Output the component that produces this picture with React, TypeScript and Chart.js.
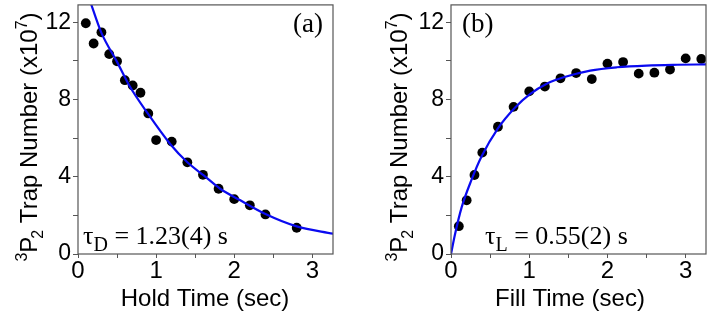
import React, { useEffect, useRef } from 'react';
import { Chart, registerables } from 'chart.js';

Chart.register(...registerables);

// ---- data ----
const holdTime = [0.1, 0.2, 0.3, 0.4, 0.5, 0.6, 0.7, 0.8, 0.9, 1.0, 1.2, 1.4, 1.6, 1.8, 2.0, 2.2, 2.4, 2.8];
const holdCount = [11.95, 10.9, 11.48, 10.35, 9.98, 9.0, 8.73, 8.35, 7.28, 5.9, 5.82, 4.75, 4.1, 3.38, 2.84, 2.52, 2.05, 1.36];
const holdFitTime = [0.15, 0.3, 0.5, 0.66, 0.9, 1.18, 1.4, 1.61, 1.82, 2.06, 2.4, 2.8, 3.27];
const holdFitCount = [13.15, 11.45, 9.95, 8.7, 7.24, 5.7, 4.75, 4.07, 3.38, 2.82, 2.07, 1.43, 1.05];

const fillTime = [0.1, 0.2, 0.3, 0.4, 0.6, 0.8, 1.0, 1.2, 1.4, 1.6, 1.8, 2.0, 2.2, 2.4, 2.6, 2.8, 3.0, 3.2];
const fillCount = [1.44, 2.78, 4.09, 5.25, 6.59, 7.62, 8.42, 8.67, 9.1, 9.37, 9.06, 9.86, 9.94, 9.34, 9.39, 9.55, 10.13, 10.1];
const fillFitTime = [0, 0.05, 0.135, 0.263, 0.39, 0.6, 0.82, 1.01, 1.23, 1.44, 1.78, 2.12, 2.5, 2.89, 3.27];
const fillFitCount = [0, 1.0, 2.4, 3.85, 5.05, 6.51, 7.59, 8.28, 8.83, 9.15, 9.5, 9.67, 9.76, 9.8, 9.82];

const xTickValues = [0, 0.5, 1, 1.5, 2, 2.5, 3];
const xTickLabels = ['0', '', '1', '', '2', '', '3'];
const yTickValues = [0, 2, 4, 6, 8, 10, 12];
const yTickLabels = ['0', '', '4', '', '8', '', '12'];

const SANS = '"Liberation Sans", Arial, Helvetica, sans-serif';
const SERIF = '"Liberation Serif", "Times New Roman", serif';
const FRAME = '#555555';
const W = 358;
const H = 313;

type Panel = {
  left: number;
  plotLeft: number;
  plotRight: number;
  xMax: number;
  times: number[];
  counts: number[];
  fitTimes: number[];
  fitCounts: number[];
  xTitle: string;
  xTitleCenter: number;
  yTitleX: number;
  tag: string;
  tagX: number;
  tauSub: string;
  tauRest: string;
  tauX: number;
};

const panels: Panel[] = [
  {
    left: 0, plotLeft: 78, plotRight: 333, xMax: 3.265,
    times: holdTime, counts: holdCount, fitTimes: holdFitTime, fitCounts: holdFitCount,
    xTitle: 'Hold Time (sec)', xTitleCenter: 205, yTitleX: 37,
    tag: '(a)', tagX: 293, tauSub: 'D', tauRest: ' = 1.23(4) s', tauX: 83,
  },
  {
    left: 358, plotLeft: 93, plotRight: 348, xMax: 3.26,
    times: fillTime, counts: fillCount, fitTimes: fillFitTime, fitCounts: fillFitCount,
    xTitle: 'Fill Time (sec)', xTitleCenter: 212, yTitleX: 49,
    tag: '(b)', tagX: 104, tauSub: 'L', tauRest: ' = 0.55(2) s', tauX: 127,
  },
];

function drawYTitle(ctx: CanvasRenderingContext2D, x: number, cy: number) {
  const pieces = [
    { t: '3', size: 16, dy: -10, dx: 0 },
    { t: 'P', size: 24, dy: 0, dx: 0 },
    { t: '2', size: 16, dy: 6, dx: -2 },
    { t: ' Trap Number (x10', size: 24, dy: 0, dx: 0 },
    { t: '7', size: 16, dy: -10, dx: 0 },
    { t: ')', size: 24, dy: 0, dx: 0 },
  ];
  let total = 0;
  const widths = pieces.map((p) => {
    ctx.font = `${p.size}px ${SANS}`;
    const w = ctx.measureText(p.t).width;
    total += w + p.dx;
    return w;
  });
  ctx.save();
  ctx.translate(x, cy + total / 2);
  ctx.rotate(-Math.PI / 2);
  ctx.fillStyle = '#000';
  ctx.textBaseline = 'alphabetic';
  ctx.textAlign = 'left';
  let pos = 0;
  pieces.forEach((p, i) => {
    pos += p.dx;
    ctx.font = `${p.size}px ${SANS}`;
    ctx.fillText(p.t, pos, p.dy);
    pos += widths[i];
  });
  ctx.restore();
}

function makeChart(canvas: HTMLCanvasElement, p: Panel) {
  const plotBottom = 254;
  const overlay = {
    id: 'overlay' + p.tag,
    afterDraw(chart: any) {
      const ctx: CanvasRenderingContext2D = chart.ctx;
      const a = chart.chartArea;
      ctx.save();
      ctx.strokeStyle = FRAME;
      ctx.lineWidth = 1.2;
      ctx.strokeRect(a.left, a.top, a.right - a.left, a.bottom - a.top);
      // x title
      ctx.fillStyle = '#000';
      ctx.font = `24px ${SANS}`;
      ctx.textAlign = 'center';
      ctx.textBaseline = 'alphabetic';
      ctx.fillText(p.xTitle, p.xTitleCenter, 305.5);
      // panel tag
      ctx.font = `27px ${SERIF}`;
      ctx.textAlign = 'left';
      ctx.fillText(p.tag, p.tagX, 32);
      // tau annotation
      let x = p.tauX;
      ctx.font = `26px ${SERIF}`;
      ctx.fillText('\u03c4', x, 244);
      x += ctx.measureText('\u03c4').width;
      ctx.font = `20px ${SERIF}`;
      ctx.fillText(p.tauSub, x, 251);
      x += ctx.measureText(p.tauSub).width;
      ctx.font = `26px ${SERIF}`;
      ctx.fillText(p.tauRest, x, 244);
      ctx.restore();
      drawYTitle(ctx, p.yTitleX, 137);
    },
  };

  return new Chart(canvas, {
    type: 'scatter',
    data: {
      datasets: [
        {
          type: 'line',
          data: p.fitTimes.map((t, i) => ({ x: t, y: p.fitCounts[i] })),
          borderColor: '#0a0af0',
          borderWidth: 2.2,
          pointRadius: 0,
          fill: false,
          cubicInterpolationMode: 'monotone',
          order: 0,
        } as any,
        {
          type: 'scatter',
          data: p.times.map((t, i) => ({ x: t, y: p.counts[i] })),
          backgroundColor: '#000',
          borderColor: '#000',
          borderWidth: 0,
          pointRadius: 4.9,
          order: 1,
        },
      ],
    },
    options: {
      animation: false,
      responsive: false,
      devicePixelRatio: 1,
      events: [],
      layout: { padding: { left: 0, right: W - p.plotRight, top: 3, bottom: 0 } },
      plugins: { legend: { display: false }, tooltip: { enabled: false } },
      scales: {
        x: {
          type: 'linear',
          min: 0,
          max: p.xMax,
          afterBuildTicks: (s: any) => {
            s.ticks = xTickValues.map((v) => ({ value: v }));
          },
          afterFit: (s: any) => {
            s.height = H - plotBottom;
            s.paddingLeft = 0;
            s.paddingRight = 0;
          },
          grid: { drawOnChartArea: false, drawTicks: true, tickLength: 4, color: FRAME, lineWidth: 1 },
          border: { display: false },
          ticks: {
            autoSkip: false,
            maxRotation: 0,
            padding: -1,
            color: '#000',
            font: { family: SANS, size: 24 },
            callback: (v: any) => {
              const i = xTickValues.indexOf(Number(v));
              return i >= 0 ? xTickLabels[i] : '';
            },
          },
        },
        y: {
          type: 'linear',
          min: 0,
          max: 12.9,
          afterBuildTicks: (s: any) => {
            s.ticks = yTickValues.map((v) => ({ value: v }));
          },
          afterFit: (s: any) => {
            s.width = p.plotLeft;
            s.paddingTop = 0;
            s.paddingBottom = 0;
          },
          grid: { drawOnChartArea: false, drawTicks: true, tickLength: 5, color: FRAME, lineWidth: 1 },
          border: { display: false },
          ticks: {
            autoSkip: false,
            padding: 2,
            color: '#000',
            font: { family: SANS, size: 23 },
            callback: (v: any) => {
              const i = yTickValues.indexOf(Number(v));
              return i >= 0 ? yTickLabels[i] : '';
            },
          },
        },
      },
    },
    plugins: [overlay],
  } as any);
}

function PanelChart({ p }: { p: Panel }) {
  const ref = useRef<HTMLCanvasElement | null>(null);
  useEffect(() => {
    if (!ref.current) return;
    const c = makeChart(ref.current, p);
    return () => c.destroy();
  }, [p]);
  return (
    <canvas
      ref={ref}
      width={W}
      height={H}
      style={{ position: 'absolute', left: p.left, top: 0, width: W, height: H }}
    />
  );
}

export default function App() {
  return (
    <div style={{ position: 'fixed', left: 0, top: 0, width: 716, height: 313, background: '#fff' }}>
      {panels.map((p) => (
        <PanelChart key={p.tag} p={p} />
      ))}
    </div>
  );
}
